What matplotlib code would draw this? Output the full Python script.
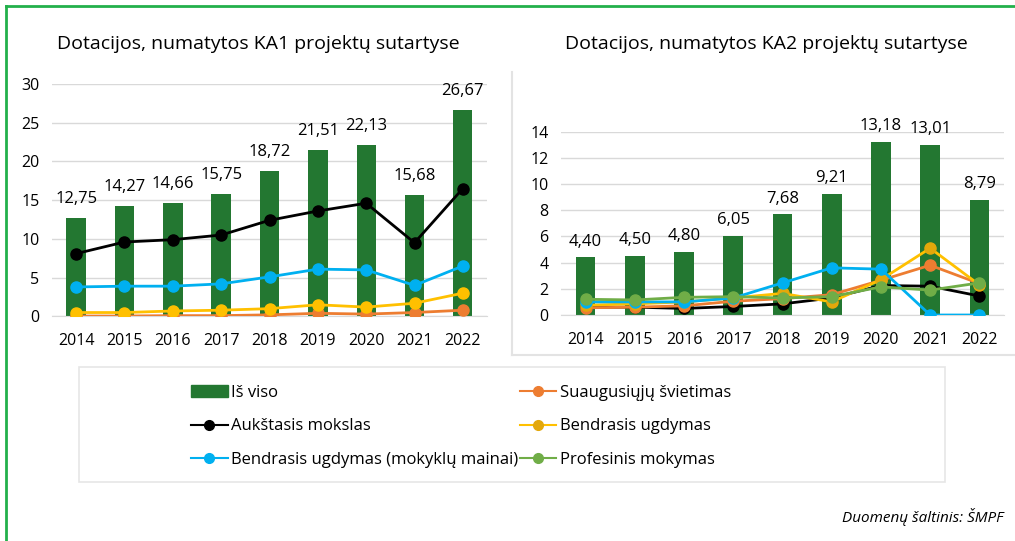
import matplotlib.pyplot as plt
import numpy as np
from matplotlib.lines import Line2D
from matplotlib.patches import Patch, Rectangle

plt.rcParams['font.family'] = ['Open Sans', 'DejaVu Sans']

years = [2014, 2015, 2016, 2017, 2018, 2019, 2020, 2021, 2022]

# KA1
ka1_total = [12.75, 14.27, 14.66, 15.75, 18.72, 21.51, 22.13, 15.68, 26.67]
ka1_higher = [8.1, 9.6, 9.9, 10.5, 12.4, 13.6, 14.6, 9.5, 16.5]
ka1_school_exch = [3.8, 3.9, 3.9, 4.2, 5.1, 6.1, 6.0, 4.0, 6.5]
ka1_school = [0.5, 0.5, 0.7, 0.8, 1.0, 1.5, 1.2, 1.7, 3.0]
ka1_adult = [0.05, 0.05, 0.1, 0.1, 0.2, 0.4, 0.3, 0.5, 0.8]

# KA2
ka2_total = [4.40, 4.50, 4.80, 6.05, 7.68, 9.21, 13.18, 13.01, 8.79]
ka2_adult = [0.55, 0.6, 0.7, 1.05, 1.25, 1.55, 2.65, 3.8, 2.4]
ka2_higher = [0.6, 0.6, 0.5, 0.65, 0.85, 1.3, 2.25, 2.2, 1.45]
ka2_school = [0.75, 0.85, 1.0, 1.3, 1.65, 1.0, 2.7, 5.1, 2.3]
ka2_school_exch = [1.0, 1.0, 1.0, 1.3, 2.45, 3.6, 3.5, 0.0, 0.0]
ka2_vet = [1.2, 1.15, 1.35, 1.4, 1.3, 1.4, 2.15, 1.9, 2.45]

bar_color = '#237731'
c_adult = '#ED7D31'
c_higher = '#000000'
c_school = '#FFC000'
c_exch = '#00B0F0'
c_vet = '#70AD47'

fig = plt.figure(figsize=(10.15, 5.41), dpi=100)
W, H = 1015, 541


def px_axes(x0, x1, y_top, y_bot):
    return fig.add_axes([x0 / W, 1 - y_bot / H, (x1 - x0) / W, (y_bot - y_top) / H])


def style_axes(ax, ymax, step):
    x = np.arange(len(years))
    ax.set_xlim(-0.5, len(years) - 0.5)
    ax.set_ylim(0, ymax)
    ax.set_yticks(np.arange(0, ymax + 0.1, step))
    ax.set_xticks(x)
    ax.set_xticklabels([str(y) for y in years])
    ax.grid(axis='y', color='#d9d9d9', linewidth=1)
    ax.set_axisbelow(True)
    for s in ['top', 'right', 'left']:
        ax.spines[s].set_visible(False)
    ax.spines['bottom'].set_color('#d9d9d9')
    ax.tick_params(length=0, labelsize=11.5)
    ax.tick_params(axis='x', pad=12)
    ax.tick_params(axis='y', pad=9)


def bar_labels(ax, vals, off):
    for i, v in enumerate(vals):
        ax.text(i, v + off, f"{v:.2f}".replace('.', ','), ha='center', va='bottom',
                fontsize=12, clip_on=False)


x = np.arange(len(years))
mk = dict(marker='o', markersize=8, linewidth=2)

# left chart
ax1 = px_axes(52, 487, 83.9, 316.4)
style_axes(ax1, 30, 5)
ax1.bar(x, ka1_total, width=0.4, color=bar_color, zorder=2)
ax1.plot(x, ka1_adult, color=c_adult, zorder=3, **mk)
ax1.plot(x, ka1_school, color=c_school, zorder=3, **mk)
ax1.plot(x, ka1_school_exch, color=c_exch, zorder=3, **mk)
ax1.plot(x, ka1_higher, color=c_higher, zorder=3, **mk)
bar_labels(ax1, ka1_total, 1.4)
fig.text(258 / W, 1 - 44 / H, 'Dotacijos, numatytos KA1 projektų sutartyse',
         ha='center', va='center', fontsize=14)

# right chart
ax2 = px_axes(561, 1004, 131.6, 315)
style_axes(ax2, 14, 2)
ax2.bar(x, ka2_total, width=0.4, color=bar_color, zorder=2)
ax2.plot(x, ka2_higher, color=c_higher, zorder=3, **mk)
ax2.plot(x, ka2_adult, color=c_adult, zorder=3, **mk)
ax2.plot(x, ka2_school, color=c_school, markerfacecolor='#E3A80B',
         markeredgecolor='#E3A80B', zorder=3, **mk)
ax2.plot(x, ka2_school_exch, color=c_exch, zorder=3, **mk)
ax2.plot(x, ka2_vet, color=c_vet, zorder=3, **mk)
bar_labels(ax2, ka2_total, 0.6)
fig.text(766 / W, 1 - 44 / H, 'Dotacijos, numatytos KA2 projektų sutartyse',
         ha='center', va='center', fontsize=14)

# panel frame lines and outer border
fig.add_artist(Line2D([512 / W, 512 / W], [1 - 72 / H, 1 - 355 / H], color='#e3e3e3', lw=1.5))
fig.add_artist(Line2D([512 / W, 1.0], [1 - 355 / H, 1 - 355 / H], color='#e3e3e3', lw=1.5))
fig.add_artist(Line2D([6 / W, 6 / W], [0, 1 - 6 / H], color='#22B04B', lw=2))
fig.add_artist(Line2D([6 / W, 1.0], [1 - 6 / H, 1 - 6 / H], color='#22B04B', lw=2))

# legend box
fig.add_artist(Rectangle((79 / W, 1 - 482 / H), (945 - 79) / W, (482 - 367) / H,
                         transform=fig.transFigure, fill=False, edgecolor='#e6e6e6', lw=1.2))

lk = dict(marker='o', markersize=7, linewidth=1.5)
handles = [
    Patch(color=bar_color),
    Line2D([], [], color=c_higher, **lk),
    Line2D([], [], color=c_exch, **lk),
    Line2D([], [], color=c_adult, **lk),
    Line2D([], [], color=c_school, markerfacecolor='#E3A80B', markeredgecolor='#E3A80B', **lk),
    Line2D([], [], color=c_vet, **lk),
]
labels = ['Iš viso', 'Aukštasis mokslas', 'Bendrasis ugdymas (mokyklų mainai)',
          'Suaugusiųjų švietimas', 'Bendrasis ugdymas', 'Profesinis mokymas']
fig.legend(handles, labels, ncol=2, loc='upper left',
           bbox_to_anchor=(176 / W, 1 - 370 / H), frameon=False, fontsize=12,
           handlelength=2.2, handletextpad=0.2, columnspacing=0.1, labelspacing=1.05)

fig.text(1003 / W, 1 - 517 / H, 'Duomenų šaltinis: ŠMPF', ha='right', va='center',
         fontsize=11, style='italic')

fig.savefig('out.png', dpi=100)
